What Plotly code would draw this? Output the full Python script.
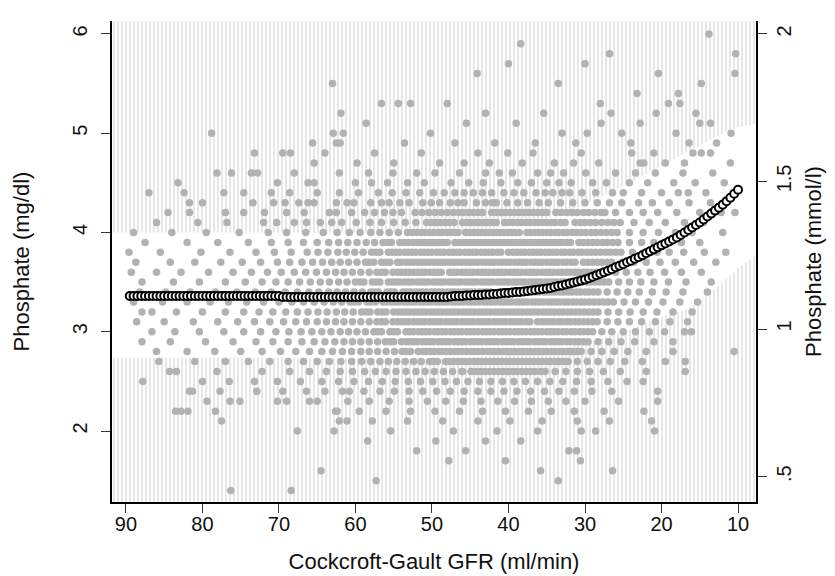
import plotly.graph_objects as go

# ---------------- data ----------------
# fitted curve (mg/dl) against Cockcroft-Gault GFR
curve_gfr = [
    89.5, 89.0, 88.5, 88.0, 87.5, 87.0, 86.5, 86.0, 85.5, 85.0,
    84.5, 84.0, 83.5, 83.0, 82.5, 82.0, 81.5, 81.0, 80.5, 80.0,
    79.5, 79.0, 78.5, 78.0, 77.5, 77.0, 76.5, 76.0, 75.5, 75.0,
    74.5, 74.0, 73.5, 73.0, 72.5, 72.0, 71.5, 71.0, 70.5, 70.0,
    69.5, 69.0, 68.5, 68.0, 67.5, 67.0, 66.5, 66.0, 65.5, 65.0,
    64.5, 64.0, 63.5, 63.0, 62.5, 62.0, 61.5, 61.0, 60.5, 60.0,
    59.5, 59.0, 58.5, 58.0, 57.5, 57.0, 56.5, 56.0, 55.5, 55.0,
    54.5, 54.0, 53.5, 53.0, 52.5, 52.0, 51.5, 51.0, 50.5, 50.0,
    49.5, 49.0, 48.5, 48.0, 47.5, 47.0, 46.5, 46.0, 45.5, 45.0,
    44.5, 44.0, 43.5, 43.0, 42.5, 42.0, 41.5, 41.0, 40.5, 40.0,
    39.5, 39.0, 38.5, 38.0, 37.5, 37.0, 36.5, 36.0, 35.5, 35.0,
    34.5, 34.0, 33.5, 33.0, 32.5, 32.0, 31.5, 31.0, 30.5, 30.0,
    29.5, 29.0, 28.5, 28.0, 27.5, 27.0, 26.5, 26.0, 25.5, 25.0,
    24.5, 24.0, 23.5, 23.0, 22.5, 22.0, 21.5, 21.0, 20.5, 20.0,
    19.5, 19.0, 18.5, 18.0, 17.5, 17.0, 16.5, 16.0, 15.5, 15.0,
    14.5, 14.0, 13.5, 13.0, 12.5, 12.0, 11.5, 11.0, 10.5, 10.0,
]
curve_phos = [
    3.36, 3.36, 3.36, 3.36, 3.36, 3.36, 3.36, 3.36, 3.36, 3.36,
    3.36, 3.36, 3.36, 3.36, 3.36, 3.36, 3.36, 3.36, 3.36, 3.36,
    3.36, 3.36, 3.36, 3.36, 3.36, 3.36, 3.36, 3.36, 3.36, 3.36,
    3.36, 3.36, 3.36, 3.36, 3.36, 3.36, 3.36, 3.36, 3.36, 3.36,
    3.35, 3.35, 3.35, 3.35, 3.35, 3.35, 3.35, 3.35, 3.35, 3.35,
    3.35, 3.35, 3.35, 3.35, 3.35, 3.35, 3.35, 3.35, 3.35, 3.35,
    3.35, 3.35, 3.35, 3.35, 3.35, 3.35, 3.35, 3.35, 3.35, 3.35,
    3.35, 3.35, 3.35, 3.35, 3.35, 3.35, 3.35, 3.35, 3.35, 3.35,
    3.35, 3.35, 3.35, 3.35, 3.355, 3.36, 3.36, 3.36, 3.365, 3.365,
    3.37, 3.37, 3.37, 3.375, 3.375, 3.38, 3.38, 3.385, 3.39, 3.39,
    3.395, 3.40, 3.40, 3.405, 3.41, 3.415, 3.42, 3.425, 3.43, 3.435,
    3.44, 3.45, 3.46, 3.465, 3.475, 3.485, 3.495, 3.505, 3.515, 3.525,
    3.54, 3.555, 3.57, 3.585, 3.60, 3.615, 3.63, 3.65, 3.665, 3.68,
    3.70, 3.715, 3.735, 3.75, 3.77, 3.79, 3.81, 3.83, 3.85, 3.87,
    3.89, 3.91, 3.93, 3.95, 3.975, 4.0, 4.025, 4.05, 4.075, 4.10,
    4.13, 4.16, 4.19, 4.22, 4.25, 4.28, 4.315, 4.35, 4.39, 4.43,
]

# prediction band (mg/dl); hatched outside it
band_gfr = [91.9, 80, 70, 60, 50, 45, 40, 35, 30, 25, 20, 17, 15, 12, 10, 7.5]
band_upper = [4.00, 4.00, 4.00, 4.00, 4.00, 4.02, 4.06, 4.14, 4.28, 4.47, 4.67, 4.80, 4.88, 5.00, 5.06, 5.10]
band_lower = [2.74, 2.74, 2.74, 2.73, 2.73, 2.74, 2.76, 2.80, 2.88, 3.00, 3.15, 3.22, 3.30, 3.50, 3.64, 3.78]

# individual observations: GFR values at each reported phosphate level (mg/dl)
r60 = [13.8]
r59 = [38.4]
r58 = [26.8, 10.3]
r57 = [40.0, 30.0]
r56 = [44.1, 20.4, 10.4]
r55 = [63.0, 14.8, 33.5]
r54 = [23.2, 17.8]
r53 = [56.6, 54.4, 52.8, 48.0, 19.1, 17.6, 28.0]
r52 = [61.9, 35.4, 26.6, 20.7, 15.5, 43.0]
r51 = [45.5, 39.0, 27.9, 22.8, 15.0, 13.6, 58.6]
r50 = [78.8, 62.9, 61.6, 50.2, 33.0, 29.7, 25.2, 18.1, 10.9]
r49 = [65.6, 62.5, 62.0, 53.6, 47.0, 41.8, 36.5, 31.2, 24.0, 16.4, 12.8]
r48 = [73.2, 69.5, 68.5, 64.0, 57.5, 51.4, 44.0, 40.1, 36.8, 30.5, 23.9, 21.0, 15.9, 14.8, 13.6]
r47 = [65.4, 59.8, 55.0, 49.0, 45.8, 42.5, 38.2, 34.0, 31.5, 28.2, 22.8, 22.3, 19.5, 17.0, 11.0]
r46 = [78.1, 76.2, 73.6, 72.8, 68.0, 62.1, 58.3, 55.1, 52.0, 49.6, 46.4, 43.0, 41.2, 39.5,
       36.2, 34.5, 32.8, 29.9, 26.0, 23.4, 20.8, 17.2, 13.3]
r45 = [83.2, 70.2, 66.2, 65.4, 60.0, 57.9, 55.8, 53.2, 51.0, 47.5, 45.2, 43.3, 41.0, 38.8,
       37.0, 35.0, 33.4, 31.8, 29.0, 27.2, 24.2, 21.8, 18.4, 15.6, 11.8]
r44 = [87.0, 82.4, 77.2, 74.6, 71.0, 68.6, 65.0, 62.1, 59.6, 57.0, 55.2, 53.4, 51.6, 49.8,
       48.4, 47.0, 45.8, 44.6, 43.4, 42.2, 40.6, 39.3, 38.0, 36.4, 35.2, 34.2, 33.0, 32.0,
       30.4, 28.6, 26.4, 25.0, 22.6, 20.0, 17.8, 16.5, 14.2]
r43 = [81.7, 80.0, 73.4, 70.7, 69.2, 67.4, 66.2, 65.4, 62.5, 61.1, 60.2, 58.0, 56.6, 55.6,
       54.2, 53.0, 51.2, 50.1, 49.0, 47.6, 46.6, 45.8, 44.2, 43.0, 42.1, 41.6, 40.2, 38.8,
       37.5, 36.0, 34.8, 33.2, 31.6, 30.0, 28.4, 26.8, 25.2, 23.0, 21.2, 19.0, 16.4, 13.6]
r42 = [84.5, 81.7, 77.0, 74.6, 71.9, 69.0, 66.7, 63.4, 62.5, 60.5, 58.8, 57.5, 56.2, 55.1,
       54.0, 52.2, 51.3, 50.4, 48.8, 47.2, 45.9, 44.6, 43.4, 42.2, 41.0, 39.8, 38.6, 37.4,
       36.2, 35.0, 33.8, 32.4, 31.0, 29.5, 27.9, 26.0, 24.2, 22.4, 20.5, 18.0, 15.0, 12.2, 10.4]
r41 = [86.0, 80.6, 76.8, 72.0, 70.3, 68.0, 66.4, 64.6, 63.1, 61.8, 59.9, 58.1, 56.6, 55.0,
       53.5, 52.1, 50.7, 49.5, 48.3, 47.1, 46.0, 44.9, 43.8, 42.7, 41.6, 40.5, 39.4, 38.3,
       37.2, 36.1, 35.0, 33.9, 32.6, 31.3, 30.0, 28.6, 27.0, 25.4, 23.6, 21.6, 19.5, 17.0, 14.5]
r40 = [89.0, 84.0, 79.5, 75.2, 71.4, 69.0, 66.5, 64.2, 62.4, 60.8, 59.4, 58.0, 56.8, 55.6,
       54.4, 53.2, 52.0, 50.9, 49.8, 48.7, 47.6, 46.6, 45.6, 44.6, 43.6, 42.6, 41.6, 40.6,
       39.6, 38.6, 37.6, 36.6, 35.6, 34.5, 33.4, 32.3, 31.1, 29.9, 28.6, 27.2, 25.8, 24.2,
       22.4, 20.4, 18.2, 16.0, 12.0]
r39 = [87.5, 82.0, 78.0, 74.0, 71.0, 68.8, 66.8, 65.0, 63.5, 62.2, 61.0, 59.8, 58.6, 57.5,
       56.4, 55.3, 54.2, 53.1, 52.0, 51.0, 50.0, 49.0, 48.0, 47.0, 46.0, 45.0, 44.0, 43.0,
       42.0, 41.0, 40.0, 39.0, 38.0, 37.0, 36.0, 35.0, 34.0, 33.0, 31.9, 30.8, 29.6, 28.4,
       27.1, 25.7, 24.2, 22.6, 21.0, 19.2, 17.4, 15.0]
r38 = [89.6, 85.5, 80.2, 76.4, 73.0, 70.6, 68.4, 66.3, 64.9, 63.6, 62.3, 61.2, 60.1, 59.0,
       57.9, 56.8, 55.7, 54.7, 53.6, 52.6, 51.5, 50.5, 49.4, 48.4, 47.3, 46.3, 45.2, 44.2,
       43.1, 42.1, 41.0, 40.0, 38.9, 37.9, 36.8, 35.8, 34.7, 33.7, 32.6, 31.5, 30.4, 29.2,
       28.0, 26.7, 25.3, 23.8, 22.2, 20.6, 19.0, 17.1, 14.4, 11.6]
r37 = [88.7, 84.2, 81.0, 77.6, 74.8, 72.4, 70.2, 68.6, 67.0, 65.6, 64.3, 63.1, 62.0, 60.9,
       59.8, 58.7, 57.6, 56.6, 55.5, 54.5, 53.4, 52.4, 51.3, 50.3, 49.2, 48.2, 47.1, 46.1,
       45.0, 44.0, 42.9, 41.9, 40.8, 39.8, 38.7, 37.7, 36.6, 35.6, 34.5, 33.5, 32.4, 31.3,
       30.2, 29.0, 27.8, 26.5, 25.1, 23.6, 22.0, 20.2, 18.2, 15.8, 12.9]
r36 = [89.3, 86.0, 82.8, 79.2, 76.0, 73.6, 71.5, 69.7, 68.0, 66.5, 65.1, 63.8, 62.6, 61.5,
       60.4, 59.3, 58.2, 57.2, 56.1, 55.1, 54.0, 53.0, 51.9, 50.9, 49.8, 48.8, 47.7, 46.7,
       45.6, 44.6, 43.5, 42.5, 41.4, 40.4, 39.3, 38.3, 37.2, 36.2, 35.1, 34.1, 33.0, 31.9,
       30.8, 29.7, 28.5, 27.3, 26.0, 24.6, 23.1, 21.5, 19.6, 17.4, 14.8]
r35 = [87.9, 83.8, 80.4, 77.0, 74.4, 72.2, 70.4, 68.8, 67.3, 65.9, 64.6, 63.4, 62.2, 61.1,
       60.0, 58.9, 57.8, 56.8, 55.7, 54.7, 53.6, 52.6, 51.5, 50.5, 49.4, 48.4, 47.3, 46.3,
       45.2, 44.2, 43.1, 42.1, 41.0, 40.0, 38.9, 37.9, 36.8, 35.8, 34.7, 33.7, 32.6, 31.5,
       30.4, 29.3, 28.1, 26.9, 25.6, 24.2, 22.7, 21.0, 19.1, 16.8, 13.5]
r34 = [88.2, 84.8, 81.6, 78.3, 75.5, 73.1, 71.0, 69.2, 67.6, 66.1, 64.8, 63.5, 62.4, 61.3,
       60.2, 59.1, 58.0, 57.0, 55.9, 54.9, 53.8, 52.8, 51.7, 50.7, 49.6, 48.6, 47.5, 46.5,
       45.4, 44.4, 43.3, 42.3, 41.2, 40.2, 39.1, 38.1, 37.0, 36.0, 34.9, 33.9, 32.8, 31.7,
       30.6, 29.5, 28.3, 27.1, 25.8, 24.4, 22.9, 21.2, 19.4, 17.2, 14.0]
r33 = [89.0, 85.2, 82.0, 79.0, 76.6, 74.2, 72.0, 70.0, 68.3, 66.8, 65.4, 64.1, 62.9, 61.8,
       60.7, 59.6, 58.5, 57.4, 56.4, 55.3, 54.3, 53.2, 52.2, 51.1, 50.1, 49.0, 48.0, 46.9,
       45.9, 44.8, 43.8, 42.7, 41.7, 40.6, 39.6, 38.5, 37.5, 36.4, 35.4, 34.3, 33.3, 32.2,
       31.1, 30.0, 28.8, 27.6, 26.3, 24.9, 23.4, 21.7, 19.8, 17.6, 15.3]
r32 = [87.9, 86.6, 83.4, 80.0, 77.0, 74.6, 72.6, 70.8, 69.1, 67.6, 66.2, 64.9, 63.7, 62.5,
       61.4, 60.3, 59.2, 58.1, 57.1, 56.0, 55.0, 53.9, 52.9, 51.8, 50.8, 49.7, 48.7, 47.6,
       46.6, 45.5, 44.5, 43.4, 42.4, 41.3, 40.3, 39.2, 38.2, 37.1, 36.1, 35.0, 34.0, 32.9,
       31.8, 30.7, 29.5, 28.3, 27.0, 25.6, 24.1, 22.4, 20.6, 18.5, 16.0]
r31 = [88.6, 85.0, 81.2, 78.0, 75.4, 73.2, 71.2, 69.4, 67.8, 66.4, 65.0, 63.8, 62.6, 61.5,
       60.4, 59.3, 58.2, 57.2, 56.1, 55.1, 54.0, 53.0, 51.9, 50.9, 49.8, 48.8, 47.7, 46.7,
       45.6, 44.6, 43.5, 42.5, 41.4, 40.4, 39.3, 38.3, 37.2, 36.2, 35.1, 34.1, 33.0, 31.9,
       30.8, 29.6, 28.4, 27.1, 25.7, 24.2, 22.6, 20.8, 18.9, 16.6]
r30 = [86.6, 83.6, 80.4, 77.2, 74.6, 72.4, 70.4, 68.7, 67.1, 65.7, 64.4, 63.2, 62.0, 60.9,
       59.8, 58.7, 57.6, 56.6, 55.5, 54.5, 53.4, 52.4, 51.3, 50.3, 49.2, 48.2, 47.1, 46.1,
       45.0, 44.0, 42.9, 41.9, 40.8, 39.8, 38.7, 37.7, 36.6, 35.6, 34.5, 33.5, 32.4, 31.3,
       30.2, 29.0, 27.8, 26.5, 25.0, 23.4, 21.6, 19.6, 17.0, 16.1]
r29 = [87.9, 84.2, 79.6, 76.0, 73.0, 70.8, 68.8, 67.0, 65.4, 64.0, 62.7, 61.5, 60.4, 59.3,
       58.2, 57.1, 56.1, 55.0, 54.0, 52.9, 51.9, 50.8, 49.8, 48.7, 47.7, 46.6, 45.6, 44.5,
       43.5, 42.4, 41.4, 40.3, 39.3, 38.2, 37.2, 36.1, 35.1, 34.0, 33.0, 31.9, 30.8, 29.6,
       28.3, 26.9, 25.3, 23.5, 21.0, 18.5]
r28 = [86.0, 82.0, 78.4, 75.0, 72.2, 69.8, 67.8, 66.0, 64.4, 63.0, 61.7, 60.5, 59.3, 58.2,
       57.1, 56.0, 54.9, 53.9, 52.8, 51.8, 50.7, 49.7, 48.6, 47.6, 46.5, 45.5, 44.4, 43.4,
       42.3, 41.3, 40.2, 39.2, 38.1, 37.1, 36.0, 35.0, 33.9, 32.8, 31.7, 30.5, 29.2, 27.8,
       26.2, 24.4, 22.0, 18.5, 10.5]
r27 = [85.7, 81.0, 77.0, 74.0, 71.2, 68.8, 66.8, 65.0, 63.4, 61.9, 60.5, 59.2, 58.0, 56.8,
       55.7, 54.6, 53.5, 52.4, 51.4, 50.3, 49.3, 48.2, 47.2, 46.1, 45.1, 44.0, 43.0, 41.9,
       40.9, 39.8, 38.8, 37.7, 36.7, 35.6, 34.5, 33.4, 32.2, 31.0, 29.7, 28.3, 26.7, 24.8,
       22.5, 19.5, 16.9]
r26 = [84.3, 83.4, 78.1, 72.2, 68.6, 66.0, 63.8, 62.0, 60.4, 58.8, 57.4, 56.0, 54.7, 53.4,
       52.1, 50.9, 49.7, 48.5, 47.3, 46.1, 44.9, 43.7, 42.5, 41.3, 40.1, 38.9, 37.7, 36.5,
       35.2, 33.9, 32.5, 31.0, 29.4, 27.6, 25.4, 22.0, 16.9]
r25 = [87.8, 80.0, 76.5, 73.2, 70.2, 67.2, 64.4, 62.2, 60.2, 58.3, 56.5, 54.8, 53.1, 51.5,
       49.9, 48.3, 46.8, 45.3, 43.8, 42.3, 40.8, 39.3, 37.8, 36.2, 34.6, 32.9, 31.1, 29.2,
       27.0, 24.5, 22.4]
r24 = [81.7, 81.3, 77.7, 72.9, 69.5, 66.4, 64.0, 61.7, 60.8, 58.9, 56.8, 54.9, 53.0, 51.2,
       49.4, 47.6, 45.8, 44.0, 42.3, 40.6, 38.9, 37.1, 35.3, 33.4, 31.4, 29.1, 26.5, 20.5]
r23 = [79.4, 76.4, 75.1, 70.2, 69.0, 66.0, 65.0, 61.0, 58.2, 55.6, 53.0, 50.6, 48.2, 45.9,
       43.6, 41.4, 39.2, 37.0, 34.8, 32.5, 30.0, 25.6, 20.5]
r22 = [83.5, 82.8, 81.9, 78.3, 62.6, 62.4, 59.5, 56.0, 52.8, 49.6, 46.4, 43.4, 40.4, 37.4,
       34.4, 31.4, 27.5, 22.3]
r21 = [77.5, 62.1, 61.1, 57.8, 53.2, 48.6, 44.0, 39.8, 35.6, 31.0, 26.8, 21.3]
r20 = [67.6, 62.8, 55.4, 47.2, 41.5, 36.2, 30.5, 28.6, 20.9]
r19 = [58.4, 49.5, 43.0, 38.4]
r18 = [52.0, 45.6, 32.1, 31.1]
r17 = [47.8, 40.4, 30.6]
r16 = [64.5, 35.8, 26.4]
r15 = [57.3, 33.5]
r14 = [76.3, 68.4]

# extra observations filling the dense centre of the cloud (same phosphate levels)
f42 = [49.6, 48.0, 46.5, 45.2, 44.0, 41.6, 40.4, 39.2, 38.0, 36.8, 35.6, 33.1, 31.7, 30.2,
       28.7, 27.4]
f41 = [50.1, 48.9, 47.7, 45.4, 44.3, 43.2, 42.1, 39.9, 38.8, 37.7, 36.6, 35.5, 34.4, 33.2,
       30.6, 29.3, 27.8, 26.2]
f40 = [52.6, 51.4, 50.3, 49.2, 48.1, 47.1, 45.1, 44.1, 43.1, 42.1, 41.1, 40.1, 39.1, 37.1,
       36.1, 35.0, 33.9, 32.8, 31.7, 30.5, 29.2, 27.9, 26.5]
f39 = [55.8, 53.6, 52.5, 51.5, 50.5, 49.5, 48.5, 46.5, 45.5, 44.5, 43.5, 42.5, 41.5, 40.5,
       39.5, 38.5, 37.5, 36.5, 35.5, 34.5, 33.5, 32.4, 30.2, 29.0, 27.7, 26.4]
f38 = [57.3, 55.2, 54.2, 53.1, 52.1, 51.0, 50.0, 48.9, 47.8, 46.8, 45.7, 44.7, 43.6, 42.6,
       41.5, 39.4, 38.4, 37.3, 36.3, 35.2, 34.2, 33.1, 32.0, 30.9, 29.8, 28.6, 27.3, 26.0]
f37 = [58.2, 56.0, 54.0, 52.9, 51.8, 50.8, 49.7, 48.7, 47.6, 46.6, 45.5, 44.5, 43.4, 42.4,
       41.3, 40.3, 39.2, 38.2, 37.1, 36.1, 35.0, 34.0, 32.9, 31.8, 29.6, 28.4, 27.1]
f36 = [56.6, 54.5, 53.5, 52.4, 51.4, 50.3, 49.3, 47.2, 46.1, 45.1, 44.0, 43.0, 41.9, 40.9,
       39.8, 38.8, 37.7, 36.7, 35.6, 34.6, 33.5, 32.4, 31.3, 30.2, 29.1, 27.9]
f35 = [59.4, 57.3, 55.2, 54.2, 53.1, 52.0, 51.0, 49.9, 48.9, 47.8, 46.8, 45.7, 44.7, 43.6,
       42.6, 41.5, 40.5, 39.4, 38.4, 37.3, 36.3, 35.2, 34.2, 33.1, 32.0, 30.9, 29.8, 28.7, 27.5]
f34 = [57.5, 55.4, 53.3, 52.2, 51.2, 50.1, 49.1, 48.0, 47.0, 45.9, 44.9, 43.8, 42.8, 40.7,
       39.6, 38.6, 37.5, 36.5, 35.4, 34.4, 33.3, 32.2, 31.1, 30.0, 28.9]
f33 = [60.2, 58.0, 55.9, 54.8, 53.7, 52.7, 51.6, 50.6, 49.5, 48.5, 47.4, 46.4, 45.3, 44.3,
       43.2, 42.2, 41.1, 40.1, 39.0, 38.0, 36.9, 35.9, 34.8, 33.8, 32.7, 31.6, 30.5, 29.4,
       28.2, 27.0]
f32 = [58.6, 56.5, 54.4, 53.4, 52.3, 51.3, 50.2, 49.2, 48.1, 47.1, 46.0, 45.0, 43.9, 42.9,
       41.8, 40.8, 39.7, 38.7, 37.6, 36.6, 35.5, 34.5, 33.4, 32.3, 31.2, 30.1, 28.9]
f31 = [56.6, 54.5, 53.5, 52.4, 51.4, 50.3, 49.3, 48.2, 47.2, 46.1, 45.1, 44.0, 43.0, 41.9,
       40.9, 39.8, 38.8, 37.7, 35.6, 34.6, 33.5, 32.4, 31.3, 30.2, 29.0]
f30 = [57.1, 55.0, 52.9, 51.8, 50.8, 49.7, 48.7, 47.6, 46.6, 45.5, 44.5, 43.4, 42.4, 41.3,
       40.3, 39.2, 38.2, 37.1, 36.1, 35.0, 34.0, 32.9, 31.8, 30.7, 29.6]
f29 = [55.5, 53.4, 52.4, 51.3, 50.3, 49.2, 48.2, 47.1, 46.1, 45.0, 44.0, 42.9, 41.9, 40.8,
       39.8, 38.7, 37.7, 36.6, 35.6, 34.5, 33.5, 32.4, 31.3, 30.2]
f28 = [53.4, 51.2, 50.2, 49.1, 48.1, 47.0, 46.0, 44.9, 43.9, 42.8, 41.8, 40.7, 39.7, 38.6,
       37.6, 36.5, 35.5, 34.4, 33.3, 32.2, 31.1]
f27 = [49.8, 47.7, 46.6, 45.6, 44.5, 43.5, 42.4, 41.4, 40.3, 39.3, 38.2, 37.2, 36.1, 35.0,
       33.9, 32.8]
f26 = [46.0, 44.3, 43.1, 41.9, 40.7, 39.5, 38.3, 37.1, 35.8]

phos_levels = [6.0, 5.9, 5.8, 5.7, 5.6, 5.5, 5.4, 5.3, 5.2, 5.1, 5.0, 4.9, 4.8, 4.7, 4.6, 4.5,
               4.4, 4.3, 4.2, 4.1, 4.0, 3.9, 3.8, 3.7, 3.6, 3.5, 3.4, 3.3, 3.2, 3.1, 3.0, 2.9,
               2.8, 2.7, 2.6, 2.5, 2.4, 2.3, 2.2, 2.1, 2.0, 1.9, 1.8, 1.7, 1.6, 1.5, 1.4]
gfr_rows = [r60, r59, r58, r57, r56, r55, r54, r53, r52, r51, r50, r49, r48, r47, r46, r45,
            r44, r43, r42 + f42, r41 + f41, r40 + f40, r39 + f39, r38 + f38, r37 + f37,
            r36 + f36, r35 + f35, r34 + f34, r33 + f33, r32 + f32, r31 + f31, r30 + f30,
            r29 + f29, r28 + f28, r27 + f27, r26 + f26, r25, r24, r23, r22, r21, r20, r19,
            r18, r17, r16, r15, r14]

x_ticks = [90, 80, 70, 60, 50, 40, 30, 20, 10]
y_ticks = [2, 3, 4, 5, 6]
y2_ticks = [0.5, 1, 1.5, 2]
y2_ticklabels = [".5", "1", "1.5", "2"]

# ---------------- build figure ----------------
scatter_x, scatter_y = [], []
for lvl, row in zip(phos_levels, gfr_rows):
    scatter_x.extend(row)
    scatter_y.extend([lvl] * len(row))

Y_MIN, Y_MAX = 1.285, 6.13
X_RANGE = [91.82, 7.65]
Y2_RANGE = [Y_MIN * 0.3363 - 0.018, Y_MAX * 0.3363 - 0.018]

FONT = "Liberation Sans, Arial, Helvetica, sans-serif"
hatch = dict(shape="|", size=4, solidity=0.32, fgcolor="#b4b4b4", bgcolor="white")

fig = go.Figure()
# hatched area above the band
fig.add_trace(go.Scatter(
    x=band_gfr + band_gfr[::-1],
    y=band_upper + [Y_MAX + 0.5] * len(band_gfr),
    fill="toself", fillcolor="white", fillpattern=hatch,
    mode="lines", line=dict(width=0), hoverinfo="skip", showlegend=False))
# hatched area below the band
fig.add_trace(go.Scatter(
    x=band_gfr + band_gfr[::-1],
    y=band_lower + [Y_MIN - 0.5] * len(band_gfr),
    fill="toself", fillcolor="white", fillpattern=hatch,
    mode="lines", line=dict(width=0), hoverinfo="skip", showlegend=False))
# observations
fig.add_trace(go.Scatter(
    x=scatter_x, y=scatter_y, mode="markers",
    marker=dict(size=7.5, color="#b2b2b2", line=dict(width=0)),
    showlegend=False))
# fitted curve
fig.add_trace(go.Scatter(
    x=curve_gfr, y=curve_phos, mode="markers",
    marker=dict(symbol="circle", size=8, color="white",
                line=dict(color="black", width=2)),
    showlegend=False))
# invisible trace to anchor the right axis
fig.add_trace(go.Scatter(x=[None], y=[None], yaxis="y2", showlegend=False, hoverinfo="skip"))

axis_common = dict(showline=True, linecolor="black", linewidth=1.5, ticks="outside",
                   ticklen=9, tickwidth=1.3, tickcolor="#333", showgrid=False, zeroline=False,
                   tickfont=dict(family=FONT, size=20, color="#111"), mirror=False)

fig.update_layout(
    width=835, height=576,
    margin=dict(l=102, r=87, t=13, b=82),
    paper_bgcolor="white", plot_bgcolor="white",
    font=dict(family=FONT, color="#111"),
    xaxis=dict(range=X_RANGE, tickvals=x_ticks, ticktext=[str(v) for v in x_ticks],
               ticklabelstandoff=-6,
               title=dict(text="Cockcroft-Gault GFR (ml/min)", font=dict(family=FONT, size=22),
                          standoff=20),
               **axis_common),
    yaxis=dict(range=[Y_MIN, Y_MAX], tickvals=y_ticks, ticktext=[str(v) for v in y_ticks],
               tickangle=-90, ticklabelstandoff=6,
               title=dict(text="Phosphate (mg/dl)", font=dict(family=FONT, size=22), standoff=34),
               **axis_common),
    yaxis2=dict(range=Y2_RANGE, tickvals=y2_ticks, ticktext=y2_ticklabels, tickangle=-90,
                overlaying="y", side="right", anchor="x",
                title=dict(text="Phosphate (mmol/l)", font=dict(family=FONT, size=22), standoff=12),
                **axis_common),
)

fig.write_html("out.html")
